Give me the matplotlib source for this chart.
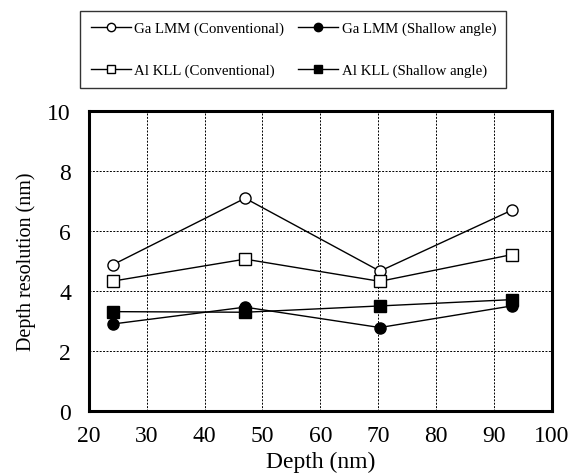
import matplotlib
matplotlib.use("Agg")
import matplotlib.pyplot as plt

plt.rcParams['font.family'] = ['Liberation Serif', 'DejaVu Serif']

depth = [24.2, 47.0, 70.3, 93.1]
ga_conv = [4.87, 7.08, 4.65, 6.68]
ga_shallow = [2.89, 3.45, 2.77, 3.49]
al_conv = [4.32, 5.05, 4.31, 5.20]
al_shallow = [3.30, 3.28, 3.49, 3.70]

xticks = [20, 30, 40, 50, 60, 70, 80, 90, 100]
yticks = [0, 2, 4, 6, 8, 10]

fig = plt.figure(figsize=(5.74, 4.77), dpi=100)
ax = fig.add_axes([0.155, 0.137, 0.806, 0.629])

kw = dict(color='black', lw=1.0, markersize=8, markeredgewidth=1.0)
h1, = ax.plot(depth, ga_conv, marker='o', mfc='white', mec='black', label='Ga LMM (Conventional)', **kw)
h2, = ax.plot(depth, ga_shallow, marker='o', mfc='black', mec='black', label='Ga LMM (Shallow angle)', **kw)
h3, = ax.plot(depth, al_conv, marker='s', mfc='white', mec='black', label='Al KLL (Conventional)', **kw)
h4, = ax.plot(depth, al_shallow, marker='s', mfc='black', mec='black', label='Al KLL (Shallow angle)', **kw)

ax.set_xlim(20, 100)
ax.set_ylim(0, 10)
ax.set_xticks(xticks)
ax.set_yticks(yticks)
ax.tick_params(axis='both', length=0, labelsize=17)
ax.tick_params(axis='x', pad=10)
ax.tick_params(axis='y', pad=13)
ax.grid(True, color='black', linestyle=(0, (2, 1.5)), linewidth=0.7)
for s in ax.spines.values():
    s.set_linewidth(2.2)
ax.set_xlabel('Depth (nm)', fontsize=17, labelpad=4)
ax.set_ylabel('Depth resolution (nm)', fontsize=14.5, labelpad=8)

leg = fig.legend(handles=[h1, h3, h2, h4], ncol=2, loc='center',
                 bbox_to_anchor=(0.511, 0.894), fontsize=10.7, frameon=True,
                 fancybox=False, edgecolor='black', handlelength=2.7,
                 columnspacing=0.9, labelspacing=1.9, handletextpad=0.25,
                 borderpad=0.7, borderaxespad=0, markerscale=0.75, numpoints=1)
leg.get_frame().set_linewidth(1.0)

fig.savefig('out.png', dpi=100)
